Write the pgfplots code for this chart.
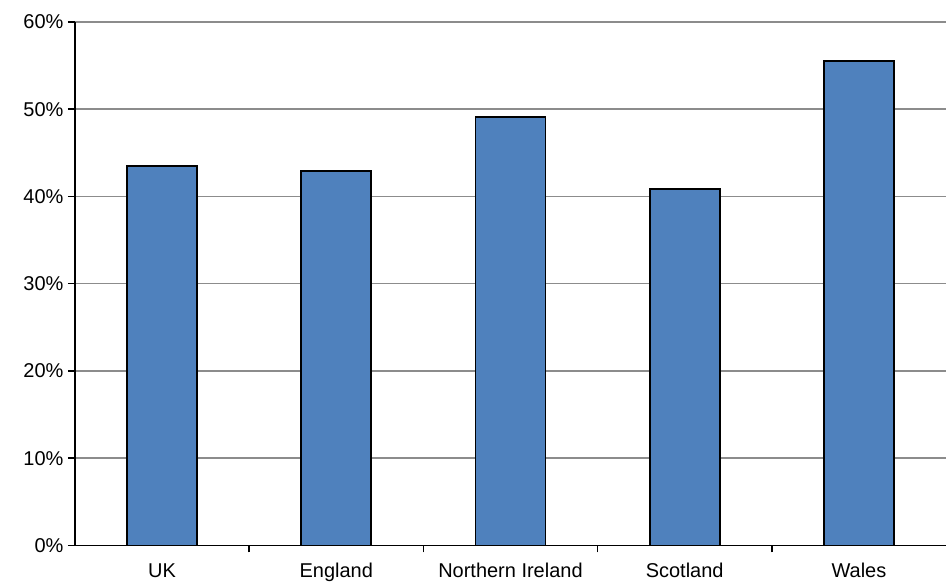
\documentclass[border=0pt]{standalone}
\usepackage{pgfplots}
\pgfplotsset{compat=1.18}
\usepackage{fontspec}
\setmainfont{Liberation Sans}
\definecolor{barblue}{HTML}{4F81BD}
\begin{document}
\begin{tikzpicture}
\begin{axis}[
  scale only axis, width=872pt, height=524pt,
  ymin=0, ymax=60, ytick={0,10,...,60},
  yticklabel={\pgfmathprintnumber{\tick}\%},
  xmin=-0.5, xmax=4.5,
  xtick={0,...,4}, xticklabels={UK,England,Northern Ireland,Scotland,Wales},
  minor xtick={0.5,1.5,2.5,3.5},
  major x tick style={draw=none},
  minor x tick style={black, line width=1.5pt},
  minor tick length=7pt,
  y tick style={black, line width=1.5pt}, major tick length=7pt,
  tick align=outside,
  ymajorgrids, grid style={gray!90, line width=1.5pt},
  axis x line*=bottom, axis y line*=left,
  axis line style={line width=1.8pt},
  tick label style={font=\fontsize{20}{20}\selectfont},
  /pgf/number format/assume math mode=true,
  xticklabel style={text height=14pt, text depth=4pt, yshift=-8pt},
  yticklabel style={xshift=-1pt},
]
\addplot[ybar, bar width=70pt, fill=barblue, draw=black, line width=1.8pt]
  coordinates {(0,43.5) (1,42.9) (2,49.1) (3,40.9) (4,55.5)};
\end{axis}
\pgfresetboundingbox
\path ([shift={(-75pt,-38pt)}]current axis.south west) rectangle ([shift={(1pt,22pt)}]current axis.north east);
\end{tikzpicture}
\end{document}
